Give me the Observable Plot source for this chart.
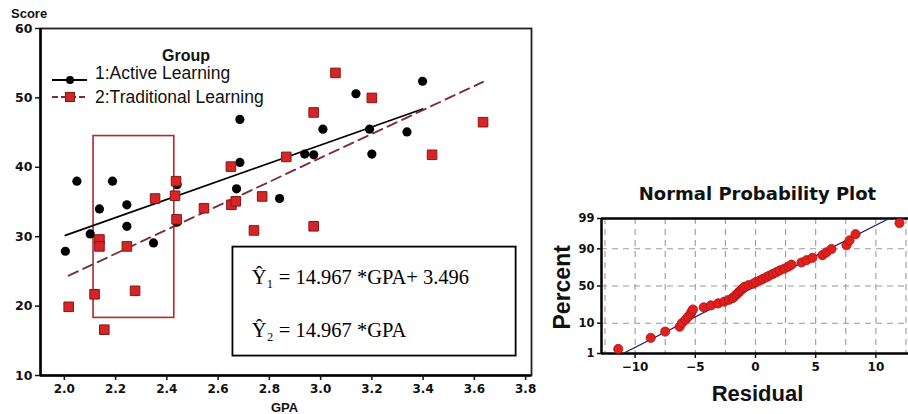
<!DOCTYPE html>
<html>
<head>
<meta charset="utf-8">
<script src="https://cdn.jsdelivr.net/npm/d3@7"></script>
<script src="https://cdn.jsdelivr.net/npm/@observablehq/plot@0.6"></script>
<style>
  html, body { margin: 0; padding: 0; background: #fff; }
  #wrap { position: relative; width: 908px; height: 414px; overflow: hidden; background: #fff; }
  .abs { position: absolute; white-space: nowrap; line-height: 1; }
  #left { position: absolute; left: 0; top: 0; }
  #right { position: absolute; left: 540px; top: 170px; }
</style>
</head>
<body>
<div id="wrap">
  <div id="left"></div>
  <div id="right"></div>
  <div class="abs" style="left:11px;top:6px;font:bold 13px 'Liberation Sans',Arial,sans-serif;color:#111;">Score</div>
  <div class="abs" style="left:271px;top:400px;font:bold 13px 'Liberation Sans',Arial,sans-serif;color:#111;">GPA</div>
  <!-- legend -->
  <div class="abs" style="left:162px;top:47px;font:bold 16px 'Liberation Sans',Arial,sans-serif;color:#111;">Group</div>
  <div class="abs" style="left:52px;top:79px;width:35px;border-top:2px solid #000;"></div>
  <div class="abs" style="left:66px;top:76px;width:8px;height:8px;background:#000;border-radius:50%;"></div>
  <div class="abs" style="left:95px;top:63px;font:17.5px 'Liberation Sans',Arial,sans-serif;color:#111;">1:Active Learning</div>
  <div class="abs" style="left:52px;top:96px;width:33px;border-top:2px dashed #7b2d3b;"></div>
  <div class="abs" style="left:65px;top:92px;width:8px;height:8px;background:#d42626;border:1px solid #8a1414;"></div>
  <div class="abs" style="left:95px;top:87px;font:17.5px 'Liberation Sans',Arial,sans-serif;color:#111;">2:Traditional Learning</div>
  <!-- right chart labels -->
  <div class="abs" style="left:630px;top:183px;width:255px;text-align:center;font:bold 18px 'DejaVu Sans',sans-serif;color:#111;">Normal Probability Plot</div>
  <div class="abs" style="left:520px;top:274px;width:84px;text-align:center;transform:rotate(-90deg);font:bold 23px 'Liberation Sans',Arial,sans-serif;color:#111;">Percent</div>
  <div class="abs" style="left:700px;top:381px;width:115px;text-align:center;font:bold 22px 'Liberation Sans',Arial,sans-serif;color:#111;">Residual</div>
</div>
<script>
// ---------- Left panel data ----------
const activeGPA   = [2.004, 2.049, 2.101, 2.137, 2.188, 2.244, 2.244, 2.348, 2.44, 2.44, 2.672, 2.685, 2.685, 2.84, 2.938, 2.973, 3.009, 3.138, 3.191, 3.2, 3.337, 3.398];
const activeScore = [27.9, 38.0, 30.4, 34.0, 38.0, 34.6, 31.5, 29.1, 37.5, 32.1, 36.9, 40.7, 46.9, 35.5, 41.9, 41.8, 45.5, 50.6, 45.5, 41.9, 45.1, 52.4];
const tradGPA     = [2.017, 2.118, 2.137, 2.137, 2.156, 2.244, 2.276, 2.354, 2.432, 2.436, 2.438, 2.545, 2.65, 2.652, 2.669, 2.74, 2.772, 2.866, 2.973, 2.973, 3.058, 3.2, 3.435, 3.634];
const tradScore   = [19.9, 21.7, 29.6, 28.6, 16.6, 28.6, 22.2, 35.5, 35.9, 38.0, 32.5, 34.1, 40.1, 34.6, 35.1, 30.9, 35.8, 41.5, 47.9, 31.5, 53.6, 50.0, 41.8, 46.5];
const activeFitGPA = [2.004, 3.398];
const activeFitScore = [30.2, 48.4];
const tradFitGPA = [2.017, 3.634];
const tradFitScore = [24.4, 52.3];
const xTicks = [2.0, 2.2, 2.4, 2.6, 2.8, 3.0, 3.2, 3.4, 3.6, 3.8];
const yTicks = [10, 20, 30, 40, 50, 60];
const xDomain = [1.907, 3.823];
const yDomain = [10, 60];
// annotation boxes (data units)
const hiliteBox = [{x1: 2.114, x2: 2.429, y1: 18.3, y2: 44.5}];
const eqBox = [{x1: 2.658, x2: 3.763, y1: 12.8, y2: 28.5}];
const eqText = ["Ŷ₁ = 14.967 *GPA+ 3.496", "Ŷ₂ = 14.967 *GPA"];
const eqGPA = [2.731, 2.731];
const eqScore = [24.1, 16.5];

// ---------- Right panel data ----------
const residuals = [-11.4, -8.7, -7.5, -6.3, -6.1, -5.8, -5.6, -5.4, -5.3, -5.2, -4.3, -3.7, -3.1, -2.6, -2.2, -1.9, -1.74, -1.6, -1.45, -1.33, -1.18, -1.04, -0.91, -0.58, -0.17, 0.04, 0.36, 0.62, 0.91, 1.16, 1.45, 1.74, 2.03, 2.41, 2.74, 2.99, 3.82, 4.24, 4.73, 5.56, 5.9, 6.31, 7.56, 7.81, 8.31, 11.96];
const percents  = [1.5, 3.7, 5.8, 8.0, 10.1, 12.3, 14.4, 16.6, 18.8, 20.9, 23.1, 25.2, 27.4, 29.5, 31.7, 33.8, 36.0, 38.2, 40.3, 42.5, 44.6, 46.8, 48.9, 51.1, 53.2, 55.4, 57.5, 59.7, 61.9, 64.0, 66.2, 68.3, 70.5, 72.6, 74.8, 76.9, 79.1, 81.3, 83.4, 85.6, 87.7, 89.9, 92.0, 94.2, 96.3, 98.5];
const refResid = [-11.0, 11.1];
const refPct = [1, 99];
const rTicks = [-10, -5, 0, 5, 10];
const rGrid = [-12.5, -10, -7.5, -5, -2.5, 0, 2.5, 5, 7.5, 10, 12.5];
const pTicks = [1, 10, 50, 90, 99];
const pGrid = [10, 50, 90];
const rDomain = [-12.79, 12.71];

// inverse normal CDF (Acklam) for the probability scale
function probit(p) {
  const a = [-3.969683028665376e+01, 2.209460984245205e+02, -2.759285104469687e+02, 1.383577518672690e+02, -3.066479806614716e+01, 2.506628277459239e+00];
  const b = [-5.447609879822406e+01, 1.615858368580409e+02, -1.556989798598866e+02, 6.680131188771972e+01, -1.328068155288572e+01];
  const c = [-7.784894002430293e-03, -3.223964580411365e-01, -2.400758277161838e+00, -2.549732539343734e+00, 4.374664141464968e+00, 2.938163982698783e+00];
  const d = [7.784695709041462e-03, 3.224671290700398e-01, 2.445134137142996e+00, 3.754408661907416e+00];
  const pl = 0.02425, ph = 1 - pl;
  let q, r;
  if (p < pl) { q = Math.sqrt(-2 * Math.log(p)); return (((((c[0]*q+c[1])*q+c[2])*q+c[3])*q+c[4])*q+c[5]) / ((((d[0]*q+d[1])*q+d[2])*q+d[3])*q+1); }
  if (p <= ph) { q = p - 0.5; r = q*q; return (((((a[0]*r+a[1])*r+a[2])*r+a[3])*r+a[4])*r+a[5])*q / (((((b[0]*r+b[1])*r+b[2])*r+b[3])*r+b[4])*r+1); }
  q = Math.sqrt(-2 * Math.log(1 - p));
  return -(((((c[0]*q+c[1])*q+c[2])*q+c[3])*q+c[4])*q+c[5]) / ((((d[0]*q+d[1])*q+d[2])*q+d[3])*q+1);
}

const active = activeGPA.map((g, i) => ({gpa: g, score: activeScore[i]}));
const trad = tradGPA.map((g, i) => ({gpa: g, score: tradScore[i]}));
const activeFit = activeFitGPA.map((g, i) => ({gpa: g, score: activeFitScore[i]}));
const tradFit = tradFitGPA.map((g, i) => ({gpa: g, score: tradFitScore[i]}));
const eqs = eqText.map((t, i) => ({t, gpa: eqGPA[i], score: eqScore[i]}));

const left = Plot.plot({
  width: 540, height: 414,
  marginLeft: 40, marginTop: 28, marginRight: 9, marginBottom: 39,
  style: {fontFamily: "'DejaVu Sans', sans-serif", fontSize: "12px", color: "#111", background: "transparent", overflow: "visible"},
  x: {domain: xDomain},
  y: {domain: yDomain},
  marks: [
    Plot.frame({stroke: "#222", strokeWidth: 1.8}),
    Plot.ruleX([xDomain[0]], {stroke: "#000", strokeWidth: 2.5}),
    Plot.ruleY([yDomain[0]], {stroke: "#000", strokeWidth: 2.5}),
    Plot.axisY({ticks: yTicks, tickSize: 5, tickPadding: 3, fontWeight: "bold", fontSize: 12.5, label: null, strokeWidth: 1.5}),
    Plot.axisX({ticks: xTicks, tickSize: 5, tickPadding: 4, tickFormat: d => d.toFixed(1), fontWeight: "bold", fontSize: 12, label: null, strokeWidth: 1.5}),
    Plot.rect(eqBox, {x1: "x1", x2: "x2", y1: "y1", y2: "y2", fill: "#fff", stroke: "#000", strokeWidth: 1.8}),
    Plot.text(eqs, {x: "gpa", y: "score", text: "t", textAnchor: "start", fontFamily: "'Liberation Serif', 'Times New Roman', serif", fontSize: 20.5, fill: "#000"}),
    Plot.rect(hiliteBox, {x1: "x1", x2: "x2", y1: "y1", y2: "y2", fill: "none", stroke: "#b3262c", strokeWidth: 1.6}),
    Plot.line(activeFit, {x: "gpa", y: "score", stroke: "#000", strokeWidth: 1.8}),
    Plot.line(tradFit, {x: "gpa", y: "score", stroke: "#7b2d3b", strokeWidth: 1.9, strokeDasharray: "10,6"}),
    Plot.dot(active, {x: "gpa", y: "score", r: 4.6, fill: "#000"}),
    Plot.dot(trad, {x: "gpa", y: "score", symbol: "square", r: 5.4, fill: "#d42626", stroke: "#8a1414", strokeWidth: 1})
  ]
});
document.getElementById("left").appendChild(left);

const pts = residuals.map((r, i) => ({r, z: probit(percents[i] / 100)}));
const ref = refResid.map((r, i) => ({r, z: probit(refPct[i] / 100)}));
const zTicks = pTicks.map(p => probit(p / 100));
const zLabel = new Map(zTicks.map((z, i) => [z, String(pTicks[i])]));
const zDomain = [zTicks[0], zTicks[zTicks.length - 1]];

const right = Plot.plot({
  width: 368, height: 244,
  marginLeft: 61, marginTop: 48, marginRight: 0, marginBottom: 61,
  style: {fontFamily: "'DejaVu Sans', sans-serif", fontSize: "12px", color: "#111", background: "transparent", overflow: "visible"},
  x: {domain: rDomain},
  y: {domain: zDomain},
  marks: [
    Plot.ruleX(rGrid, {stroke: "#9a9a9a", strokeWidth: 1.1, strokeDasharray: "6,5"}),
    Plot.ruleY(pGrid.map(p => probit(p / 100)), {stroke: "#9a9a9a", strokeWidth: 1.1, strokeDasharray: "6,5"}),
    Plot.ruleX([rDomain[0]], {stroke: "#000", strokeWidth: 2.5}),
    Plot.ruleY(zDomain, {stroke: "#000", strokeWidth: 2.5}),
    Plot.axisX({ticks: rTicks, tickSize: 5, tickPadding: 4, fontWeight: "bold", fontSize: 12, label: null, strokeWidth: 1.5}),
    Plot.axisY({ticks: zTicks, tickFormat: z => zLabel.get(z), tickSize: 4, tickPadding: 3, fontWeight: "bold", fontSize: 11.5, label: null, strokeWidth: 1.5}),
    Plot.line(ref, {x: "r", y: "z", stroke: "#1c1c6e", strokeWidth: 1.3}),
    Plot.dot(pts, {x: "r", y: "z", r: 4.6, fill: "#e0201e", stroke: "#b01212", strokeWidth: 0.8})
  ]
});
document.getElementById("right").appendChild(right);
</script>
</body>
</html>
